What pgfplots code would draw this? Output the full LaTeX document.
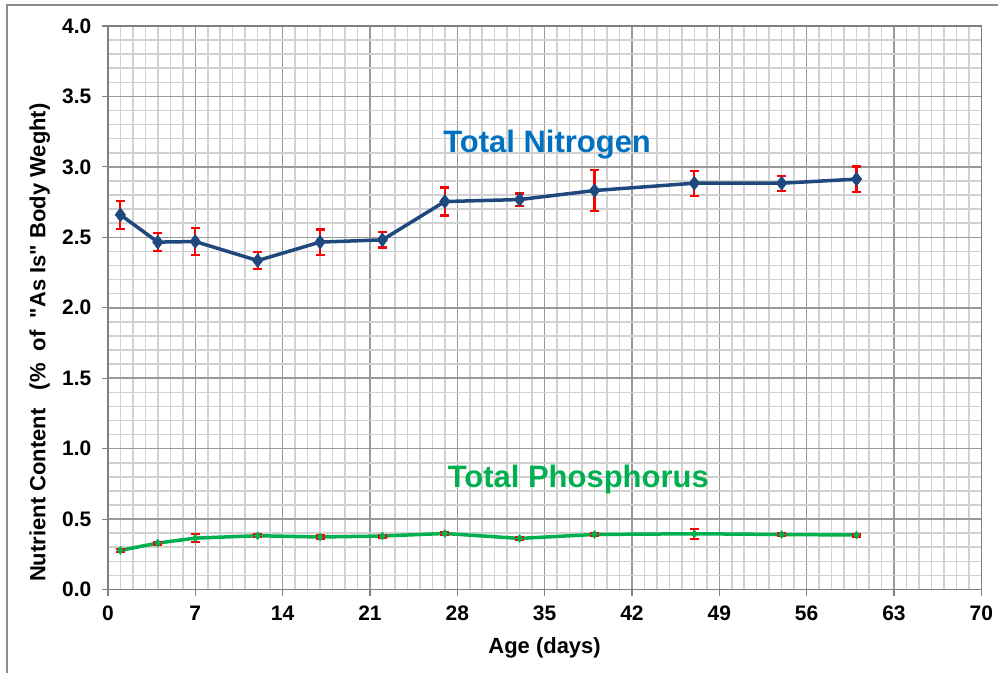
\documentclass[border=0pt]{standalone}
\usepackage{pgfplots}
\pgfplotsset{compat=1.18}
\usepackage{fontspec}
\setmainfont{Liberation Sans}
\definecolor{nline}{RGB}{31,73,125}
\definecolor{ntext}{RGB}{0,112,192}
\definecolor{pgreen}{RGB}{0,176,80}
\definecolor{errred}{RGB}{255,0,0}

\pgfplotstableread{
x  y     e
1  2.66  0.100
4  2.466 0.064
7  2.47  0.095
12 2.335 0.062
17 2.466 0.089
22 2.482 0.054
27 2.754 0.099
33 2.768 0.043
39 2.832 0.143
47 2.884 0.089
54 2.884 0.054
60 2.913 0.090
}\nitrogen
\pgfplotstableread{
x  y     e
1  0.278 0.010
4  0.33  0.010
7  0.365 0.030
12 0.382 0.010
17 0.373 0.010
22 0.38  0.010
27 0.398 0.010
33 0.363 0.010
39 0.391 0.010
47 0.396 0.035
54 0.391 0.010
60 0.387 0.010
}\phosphorus

\pgfplotsset{
  errbars/.style={forget plot, draw=none,
    error bars/.cd, y dir=both, y explicit,
    error bar style={draw=errred, line width=2.2bp},
    error mark options={rotate=90, draw=errred, mark size=4.5bp, line width=2.2bp}},
}

\begin{document}
\begin{tikzpicture}
\begin{axis}[
    at={(0,0)}, anchor=south west,
    scale only axis,
    width=874bp, height=564bp,
    xmin=0, xmax=70, ymin=0, ymax=4,
    xtick={0,7,...,70},
    ytick={0,0.5,1,1.5,2,2.5,3,3.5,4},
    minor x tick num=6, minor y tick num=4,
    grid=both,
    minor grid style={draw=black!18, line width=1.6bp},
    major grid style={draw=black!40, line width=1.5bp},
    axis line style={draw=black!50, line width=1.4bp},
    tick align=outside,
    xtick pos=bottom, ytick pos=left,
    major tick length=6bp, minor tick length=0pt,
    major tick style={draw=black!50, line width=1.2bp},
    /pgf/number format/assume math mode=true,
    tick label style={font=\fontsize{21bp}{25bp}\selectfont\bfseries},
    yticklabel style={xshift=-7bp, /pgf/number format/.cd, fixed, fixed zerofill, precision=1},
    xticklabel style={yshift=-7bp},
    label style={font=\fontsize{22bp}{26bp}\selectfont\bfseries},
    xlabel={Age (days)},
    ylabel={Nutrient Content\ \ \ (\%\ \ of\ \ \textquotedbl As Is\textquotedbl\ Body Weght)},
    every axis x label/.append style={at={(axis description cs:0.5,-0.103)}, anchor=center},
    every axis y label/.append style={at={(axis description cs:-0.078,0.438)}, anchor=center},
]
% Total Nitrogen
\addplot[nline, line width=3.5bp, line join=round,
    mark=diamond*, mark size=7bp, mark options={fill=nline, draw=nline, line width=0.5bp}]
  table[x=x, y=y] {\nitrogen};
\addplot[errbars] table[x=x, y=y, y error=e] {\nitrogen};
% Total Phosphorus
\addplot[pgreen, line width=3.5bp, line join=round,
    mark=diamond*, mark size=4bp, mark options={fill=pgreen, draw=pgreen, line width=0.5bp}]
  table[x=x, y=y] {\phosphorus};
\addplot[errbars] table[x=x, y=y, y error=e] {\phosphorus};
\node[anchor=base, text=ntext, font=\fontsize{31bp}{36bp}\selectfont\bfseries, inner sep=0pt] at (axis cs:35.2,3.10) {Total Nitrogen};
\node[anchor=base, text=pgreen, font=\fontsize{31bp}{36bp}\selectfont\bfseries, inner sep=0pt] at (axis cs:37.7,0.723) {Total Phosphorus};
\end{axis}
\draw[black!45, line width=1.5bp] (-101bp,-84bp) -- (-101bp,585bp) -- (891bp,585bp);
\path[use as bounding box] (-108bp,-84bp) rectangle (891bp,590bp);
\end{tikzpicture}
\end{document}
